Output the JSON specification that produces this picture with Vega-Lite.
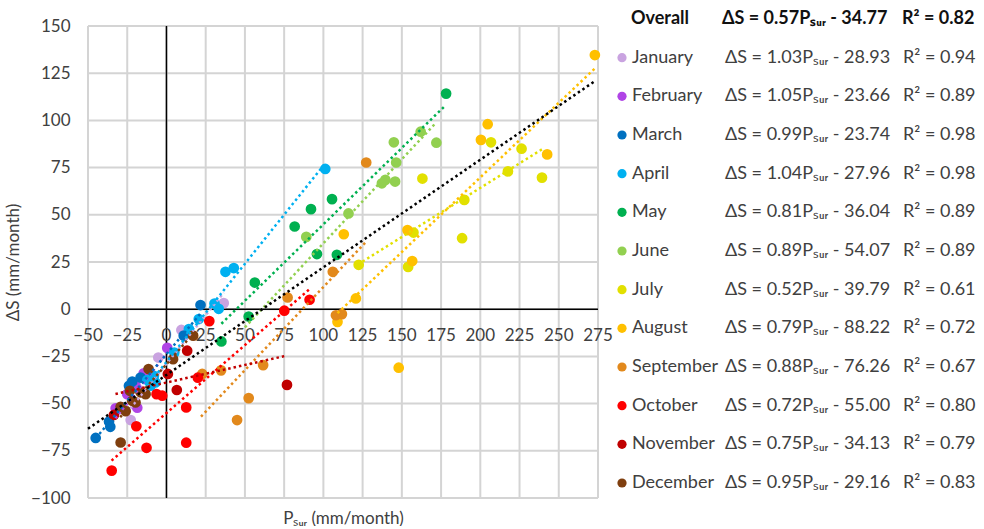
{
  "$schema": "https://vega.github.io/schema/vega-lite/v6.json",
  "background": "white",
  "padding": {"left": 4, "top": 10, "right": 0, "bottom": 0},
  "bounds": "flush",
  "spacing": 0,
  "config": {
    "font": "Lato",
    "view": {"stroke": null},
    "axis": {"grid": false, "domain": false, "tickSize": 0, "labelFont": "Lato", "labelFontSize": 17, "labelColor": "#404040", "titleFont": "Lato", "titleFontSize": 17, "titleFontWeight": "normal", "titleColor": "#404040"}
  },
  "datasets": {
    "gridX": [{"v": -50}, {"v": -25}, {"v": 0}, {"v": 25}, {"v": 50}, {"v": 75}, {"v": 100}, {"v": 125}, {"v": 150}, {"v": 175}, {"v": 200}, {"v": 225}, {"v": 250}, {"v": 275}],
    "gridY": [{"v": -100}, {"v": -75}, {"v": -50}, {"v": -25}, {"v": 0}, {"v": 25}, {"v": 50}, {"v": 75}, {"v": 100}, {"v": 125}, {"v": 150}],
    "points": [
      {"month": "January", "P": -22.8, "dS": -58.7}, {"month": "January", "P": -17, "dS": -43}, {"month": "January", "P": -5.2, "dS": -25.6}, {"month": "January", "P": 9.5, "dS": -11}, {"month": "January", "P": 36.5, "dS": 3.2},
      {"month": "February", "P": -32.4, "dS": -52.5}, {"month": "February", "P": -25, "dS": -45}, {"month": "February", "P": -19.7, "dS": -40.5}, {"month": "February", "P": -18.6, "dS": -52.2}, {"month": "February", "P": -14.5, "dS": -34}, {"month": "February", "P": 0.5, "dS": -20.5},
      {"month": "March", "P": -45.1, "dS": -68.2}, {"month": "March", "P": -36.6, "dS": -59.5}, {"month": "March", "P": -35.8, "dS": -62.3}, {"month": "March", "P": -23.9, "dS": -40.6}, {"month": "March", "P": -21.8, "dS": -38.3}, {"month": "March", "P": -16.5, "dS": -36.2}, {"month": "March", "P": 11, "dS": -14}, {"month": "March", "P": 21.7, "dS": 2.2},
      {"month": "April", "P": -12.2, "dS": -37.5}, {"month": "April", "P": -10, "dS": -40.5}, {"month": "April", "P": -8, "dS": -35.3}, {"month": "April", "P": -7, "dS": -38.8}, {"month": "April", "P": 5, "dS": -23}, {"month": "April", "P": 14.3, "dS": -10.5}, {"month": "April", "P": 20.6, "dS": -5.2}, {"month": "April", "P": 30.6, "dS": 3}, {"month": "April", "P": 33.3, "dS": 0.2}, {"month": "April", "P": 37.6, "dS": 19.8}, {"month": "April", "P": 42.9, "dS": 21.8}, {"month": "April", "P": 101.2, "dS": 74.3},
      {"month": "May", "P": 35, "dS": -17.1}, {"month": "May", "P": 52.4, "dS": -3.9}, {"month": "May", "P": 56.3, "dS": 14.1}, {"month": "May", "P": 81.7, "dS": 43.8}, {"month": "May", "P": 92.1, "dS": 53}, {"month": "May", "P": 95.9, "dS": 29.2}, {"month": "May", "P": 105.5, "dS": 58.3}, {"month": "May", "P": 108.6, "dS": 28.8}, {"month": "May", "P": 178.2, "dS": 114.2},
      {"month": "June", "P": 89.1, "dS": 38.3}, {"month": "June", "P": 116, "dS": 50.7}, {"month": "June", "P": 137.3, "dS": 66.7}, {"month": "June", "P": 139.5, "dS": 68.5}, {"month": "June", "P": 145.7, "dS": 67.6}, {"month": "June", "P": 146.4, "dS": 77.7}, {"month": "June", "P": 144.9, "dS": 88.4}, {"month": "June", "P": 162, "dS": 94}, {"month": "June", "P": 172, "dS": 88.2},
      {"month": "July", "P": 122.5, "dS": 23.5}, {"month": "July", "P": 154, "dS": 22.4}, {"month": "July", "P": 157.4, "dS": 40.6}, {"month": "July", "P": 163.1, "dS": 69.2}, {"month": "July", "P": 188.4, "dS": 37.6}, {"month": "July", "P": 189.8, "dS": 57.9}, {"month": "July", "P": 206.8, "dS": 88.4}, {"month": "July", "P": 217.6, "dS": 73}, {"month": "July", "P": 226.3, "dS": 85}, {"month": "July", "P": 239.3, "dS": 69.7},
      {"month": "August", "P": 109, "dS": -6.7}, {"month": "August", "P": 113, "dS": 39.7}, {"month": "August", "P": 120.7, "dS": 5.7}, {"month": "August", "P": 148, "dS": -31}, {"month": "August", "P": 153.6, "dS": 41.9}, {"month": "August", "P": 156.6, "dS": 25.5}, {"month": "August", "P": 200.4, "dS": 89.7}, {"month": "August", "P": 204.7, "dS": 98}, {"month": "August", "P": 242.6, "dS": 82}, {"month": "August", "P": 273, "dS": 134.6},
      {"month": "September", "P": 22.8, "dS": -34.3}, {"month": "September", "P": 34.8, "dS": -32.4}, {"month": "September", "P": 45, "dS": -58.7}, {"month": "September", "P": 52.4, "dS": -47.1}, {"month": "September", "P": 61.6, "dS": -29.6}, {"month": "September", "P": 77.2, "dS": 6.2}, {"month": "September", "P": 106, "dS": 19.8}, {"month": "September", "P": 108, "dS": -3.2}, {"month": "September", "P": 111.8, "dS": -2.6}, {"month": "September", "P": 127.3, "dS": 77.7},
      {"month": "October", "P": -34.9, "dS": -85.5}, {"month": "October", "P": -19.2, "dS": -62}, {"month": "October", "P": -12.7, "dS": -73.4}, {"month": "October", "P": -6.3, "dS": -45}, {"month": "October", "P": -2.7, "dS": -45.8}, {"month": "October", "P": 12.6, "dS": -52}, {"month": "October", "P": 12.6, "dS": -70.7}, {"month": "October", "P": 20, "dS": -36.3}, {"month": "October", "P": 27.3, "dS": -6.3}, {"month": "October", "P": 75.1, "dS": -0.8}, {"month": "October", "P": 91.2, "dS": 5},
      {"month": "November", "P": -33.5, "dS": -56}, {"month": "November", "P": 0.9, "dS": -34.3}, {"month": "November", "P": 6.6, "dS": -42.8}, {"month": "November", "P": 13.2, "dS": -22}, {"month": "November", "P": 76.8, "dS": -40.1},
      {"month": "December", "P": -29.2, "dS": -70.6}, {"month": "December", "P": -29.2, "dS": -51.7}, {"month": "December", "P": -26, "dS": -54}, {"month": "December", "P": -23.3, "dS": -43.2}, {"month": "December", "P": -21.8, "dS": -48.5}, {"month": "December", "P": -19.7, "dS": -49.4}, {"month": "December", "P": -16.5, "dS": -44}, {"month": "December", "P": -13.3, "dS": -45}, {"month": "December", "P": -11.4, "dS": -31.7}, {"month": "December", "P": 4.2, "dS": -26.5}, {"month": "December", "P": 17, "dS": -14}
    ],
    "trends": [
      {"month": "January", "P1": -23, "dS1": -52.6, "P2": 36.5, "dS2": 8.7},
      {"month": "February", "P1": -32.5, "dS1": -57.8, "P2": 0.5, "dS2": -23.1},
      {"month": "March", "P1": -45, "dS1": -68.3, "P2": 22, "dS2": -2},
      {"month": "April", "P1": -12, "dS1": -40.4, "P2": 101, "dS2": 77.1},
      {"month": "May", "P1": 35, "dS1": -7.7, "P2": 178, "dS2": 108.1},
      {"month": "June", "P1": 50, "dS1": -9.6, "P2": 171, "dS2": 98.1},
      {"month": "July", "P1": 122, "dS1": 23.7, "P2": 239.5, "dS2": 84.8},
      {"month": "August", "P1": 109, "dS1": -2.1, "P2": 273, "dS2": 127.5},
      {"month": "September", "P1": 22, "dS1": -56.9, "P2": 127, "dS2": 35.5},
      {"month": "October", "P1": -35, "dS1": -80.2, "P2": 91, "dS2": 10.5},
      {"month": "November", "P1": -32.5, "dS1": -44.9, "P2": 76.5, "dS2": -24.6},
      {"month": "December", "P1": -29.5, "dS1": -57.2, "P2": 17.5, "dS2": -12.5},
      {"month": "Overall", "P1": -50, "dS1": -63.3, "P2": 273, "dS2": 120.8}
    ],
    "table": [
      {"month": "Overall", "eq": "ΔS = 0.57Pₛᵤᵣ - 34.77", "r2": "R² = 0.82"},
      {"month": "January", "eq": "ΔS = 1.03Pₛᵤᵣ - 28.93", "r2": "R² = 0.94"},
      {"month": "February", "eq": "ΔS = 1.05Pₛᵤᵣ - 23.66", "r2": "R² = 0.89"},
      {"month": "March", "eq": "ΔS = 0.99Pₛᵤᵣ - 23.74", "r2": "R² = 0.98"},
      {"month": "April", "eq": "ΔS = 1.04Pₛᵤᵣ - 27.96", "r2": "R² = 0.98"},
      {"month": "May", "eq": "ΔS = 0.81Pₛᵤᵣ - 36.04", "r2": "R² = 0.89"},
      {"month": "June", "eq": "ΔS = 0.89Pₛᵤᵣ - 54.07", "r2": "R² = 0.89"},
      {"month": "July", "eq": "ΔS = 0.52Pₛᵤᵣ - 39.79", "r2": "R² = 0.61"},
      {"month": "August", "eq": "ΔS = 0.79Pₛᵤᵣ - 88.22", "r2": "R² = 0.72"},
      {"month": "September", "eq": "ΔS = 0.88Pₛᵤᵣ - 76.26", "r2": "R² = 0.67"},
      {"month": "October", "eq": "ΔS = 0.72Pₛᵤᵣ - 55.00", "r2": "R² = 0.80"},
      {"month": "November", "eq": "ΔS = 0.75Pₛᵤᵣ - 34.13", "r2": "R² = 0.79"},
      {"month": "December", "eq": "ΔS = 0.95Pₛᵤᵣ - 29.16", "r2": "R² = 0.83"}
    ]
  },
  "hconcat": [
    {
      "width": 510,
      "height": 472,
      "layer": [
        {
          "data": {"name": "gridY"},
          "mark": {"type": "rule", "stroke": "#D4D4D4", "strokeWidth": 2, "strokeOpacity": 1},
          "encoding": {
            "y": {"field": "v", "type": "quantitative", "title": "ΔS (mm/month)", "scale": {"domain": [-100, 150], "nice": false, "zero": false},
              "axis": {"values": [-100, -75, -50, -25, 0, 25, 50, 75, 100, 125, 150], "grid": false, "labelPadding": 18, "titlePadding": 8}},
            "x": {"datum": -50, "type": "quantitative", "scale": {"domain": [-50, 275], "nice": false, "zero": false}},
            "x2": {"datum": 275}
          }
        },
        {
          "data": {"name": "gridX"},
          "mark": {"type": "rule", "stroke": "#D4D4D4", "strokeWidth": 2, "strokeOpacity": 1},
          "encoding": {
            "x": {"field": "v", "type": "quantitative", "title": "Pₛᵤᵣ (mm/month)",
              "axis": {"labels": false, "grid": false, "titleY": 12, "titleBaseline": "top"}},
            "y": {"datum": -100, "type": "quantitative"},
            "y2": {"datum": 150}
          }
        },
        {
          "data": {"values": [{}]},
          "mark": {"type": "rule", "color": "#000000", "strokeWidth": 1.5},
          "encoding": {"x": {"datum": 0, "type": "quantitative"}}
        },
        {
          "data": {"values": [{}]},
          "mark": {"type": "rule", "color": "#000000", "strokeWidth": 1.5},
          "encoding": {"y": {"datum": 0, "type": "quantitative"}}
        },
        {
          "data": {"name": "gridX"},
          "mark": {"type": "text", "font": "Lato", "fontSize": 17, "color": "#404040", "baseline": "middle", "align": "center", "dy": 27},
          "encoding": {
            "x": {"field": "v", "type": "quantitative"},
            "y": {"datum": 0, "type": "quantitative"},
            "text": {"field": "v", "type": "quantitative"}
          }
        },
        {
          "data": {"name": "points"},
          "mark": {"type": "circle", "size": 115, "opacity": 1},
          "encoding": {
            "x": {"field": "P", "type": "quantitative"},
            "y": {"field": "dS", "type": "quantitative"},
            "color": {"field": "month", "type": "nominal", "legend": null, "scale": {"domain": ["January", "February", "March", "April", "May", "June", "July", "August", "September", "October", "November", "December", "Overall"], "range": ["#C9A3E0", "#B044E6", "#0070C0", "#00B0F0", "#00B050", "#92D050", "#E2E000", "#FFC000", "#E2891C", "#FF0000", "#C00000", "#7F3F0F", "#000000"]}}
          }
        },
        {
          "data": {"name": "trends"},
          "mark": {"type": "rule", "strokeWidth": 2.5, "strokeDash": [2.5, 3]},
          "encoding": {
            "x": {"field": "P1", "type": "quantitative"},
            "y": {"field": "dS1", "type": "quantitative"},
            "x2": {"field": "P2"},
            "y2": {"field": "dS2"},
            "color": {"field": "month", "type": "nominal", "legend": null}
          }
        }
      ]
    },
    {
      "width": 127,
      "height": 472,
      "data": {"name": "table"},
      "layer": [
        {
          "transform": [{"filter": "datum.month !== 'Overall'"}],
          "mark": {"type": "circle", "size": 85, "opacity": 1},
          "encoding": {
            "x": {"value": 24},
            "y": {"field": "month", "type": "nominal", "sort": null, "axis": null, "scale": {"type": "point", "domain": ["Overall", "January", "February", "March", "April", "May", "June", "July", "August", "September", "October", "November", "December"], "range": [-7, 457], "padding": 0}},
            "color": {"field": "month", "type": "nominal", "legend": null, "scale": {"domain": ["January", "February", "March", "April", "May", "June", "July", "August", "September", "October", "November", "December", "Overall"], "range": ["#C9A3E0", "#B044E6", "#0070C0", "#00B0F0", "#00B050", "#92D050", "#E2E000", "#FFC000", "#E2891C", "#FF0000", "#C00000", "#7F3F0F", "#000000"]}}
          }
        },
        {
          "transform": [{"filter": "datum.month !== 'Overall'"}],
          "mark": {"type": "text", "align": "left", "baseline": "middle", "font": "Lato", "fontSize": 18, "color": "#404040"},
          "encoding": {
            "x": {"value": 34},
            "y": {"field": "month", "type": "nominal", "sort": null, "axis": null},
            "text": {"field": "month"}
          }
        },
        {
          "transform": [{"filter": "datum.month === 'Overall'"}],
          "mark": {"type": "text", "align": "left", "baseline": "middle", "font": "Lato", "fontSize": 18, "fontWeight": "bold", "color": "#111111"},
          "encoding": {
            "x": {"value": 33},
            "y": {"field": "month", "type": "nominal", "sort": null, "axis": null},
            "text": {"field": "month"}
          }
        }
      ]
    },
    {
      "width": 178,
      "height": 472,
      "data": {"name": "table"},
      "layer": [
        {
          "transform": [{"filter": "datum.month !== 'Overall'"}],
          "mark": {"type": "text", "align": "left", "baseline": "middle", "font": "Lato", "fontSize": 18, "color": "#404040"},
          "encoding": {
            "x": {"value": 0},
            "y": {"field": "month", "type": "nominal", "sort": null, "axis": null, "scale": {"type": "point", "domain": ["Overall", "January", "February", "March", "April", "May", "June", "July", "August", "September", "October", "November", "December"], "range": [-7, 457], "padding": 0}},
            "text": {"field": "eq"}
          }
        },
        {
          "transform": [{"filter": "datum.month === 'Overall'"}],
          "mark": {"type": "text", "align": "left", "baseline": "middle", "font": "Lato", "fontSize": 18, "fontWeight": "bold", "color": "#111111"},
          "encoding": {
            "x": {"value": -3},
            "y": {"field": "month", "type": "nominal", "sort": null, "axis": null},
            "text": {"field": "eq"}
          }
        }
      ]
    },
    {
      "width": 81,
      "height": 472,
      "data": {"name": "table"},
      "layer": [
        {
          "transform": [{"filter": "datum.month !== 'Overall'"}],
          "mark": {"type": "text", "align": "left", "baseline": "middle", "font": "Lato", "fontSize": 18, "color": "#404040"},
          "encoding": {
            "x": {"value": 0},
            "y": {"field": "month", "type": "nominal", "sort": null, "axis": null, "scale": {"type": "point", "domain": ["Overall", "January", "February", "March", "April", "May", "June", "July", "August", "September", "October", "November", "December"], "range": [-7, 457], "padding": 0}},
            "text": {"field": "r2"}
          }
        },
        {
          "transform": [{"filter": "datum.month === 'Overall'"}],
          "mark": {"type": "text", "align": "left", "baseline": "middle", "font": "Lato", "fontSize": 18, "fontWeight": "bold", "color": "#111111"},
          "encoding": {
            "x": {"value": -1},
            "y": {"field": "month", "type": "nominal", "sort": null, "axis": null},
            "text": {"field": "r2"}
          }
        }
      ]
    }
  ]
}
